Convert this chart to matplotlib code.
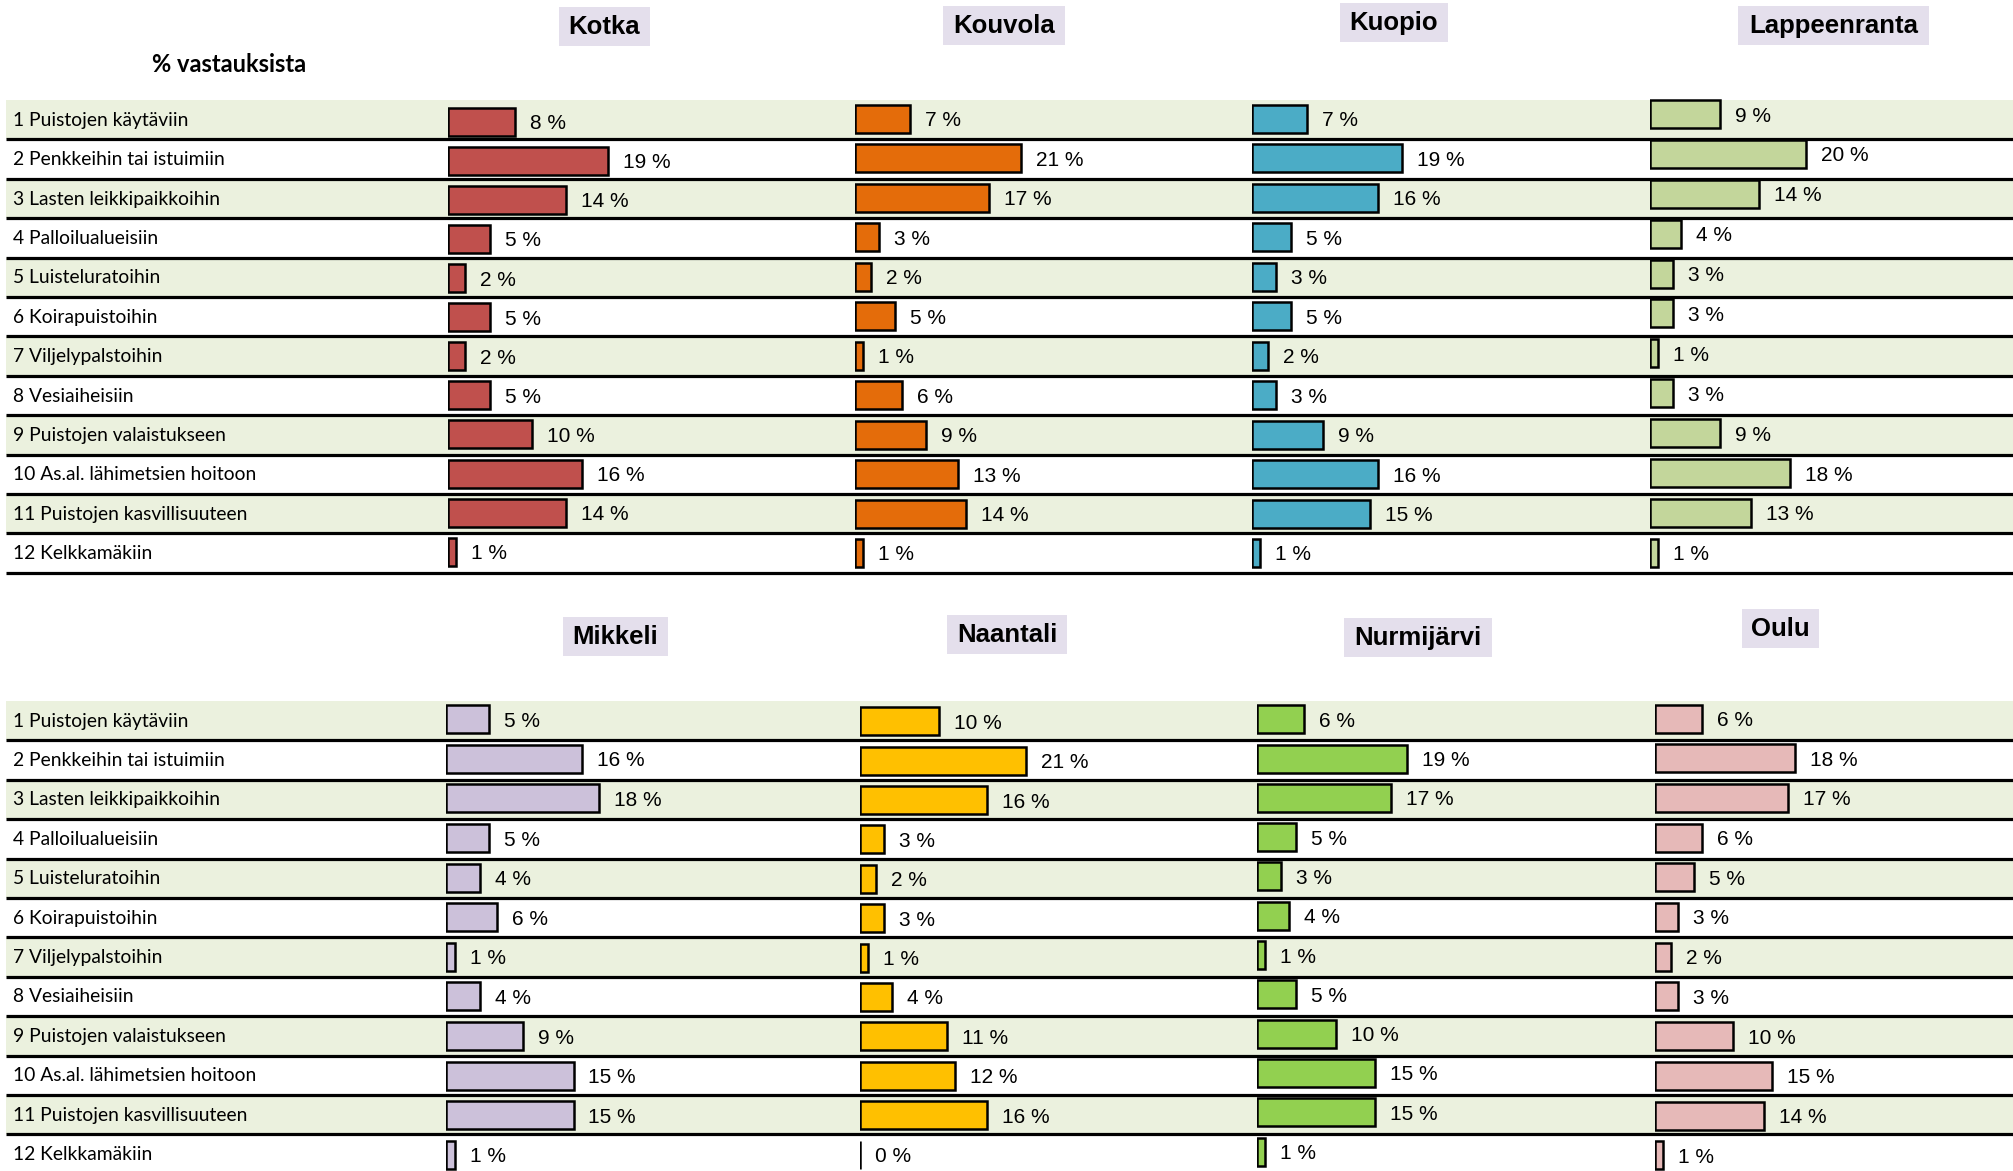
import matplotlib
matplotlib.use("Agg")
import matplotlib.pyplot as plt
from matplotlib.patches import Rectangle
from matplotlib import font_manager

# ---------------- data ----------------
categories = [
    "1 Puistojen käytäviin",
    "2 Penkkeihin tai istuimiin",
    "3 Lasten leikkipaikkoihin",
    "4 Palloilualueisiin",
    "5 Luisteluratoihin",
    "6 Koirapuistoihin",
    "7 Viljelypalstoihin",
    "8 Vesiaiheisiin",
    "9 Puistojen valaistukseen",
    "10 As.al. lähimetsien hoitoon",
    "11 Puistojen kasvillisuuteen",
    "12 Kelkkamäkiin",
]
cities = ["Kotka", "Kouvola", "Kuopio", "Lappeenranta",
          "Mikkeli", "Naantali", "Nurmijärvi", "Oulu"]
kotka = [8, 19, 14, 5, 2, 5, 2, 5, 10, 16, 14, 1]
kouvola = [7, 21, 17, 3, 2, 5, 1, 6, 9, 13, 14, 1]
kuopio = [7, 19, 16, 5, 3, 5, 2, 3, 9, 16, 15, 1]
lappeenranta = [9, 20, 14, 4, 3, 3, 1, 3, 9, 18, 13, 1]
mikkeli = [5, 16, 18, 5, 4, 6, 1, 4, 9, 15, 15, 1]
naantali = [10, 21, 16, 3, 2, 3, 1, 4, 11, 12, 16, 0]
nurmijarvi = [6, 19, 17, 5, 3, 4, 1, 5, 10, 15, 15, 1]
oulu = [6, 18, 17, 6, 5, 3, 2, 3, 10, 15, 14, 1]
series = [kotka, kouvola, kuopio, lappeenranta, mikkeli, naantali, nurmijarvi, oulu]
colors = ["#C0504D", "#E46C0A", "#4BACC6", "#C3D69B",
          "#CCC1DA", "#FFC000", "#92D050", "#E6B9B8"]
subtitle = "% vastauksista"

# ---------------- layout (pixels) ----------------
W, H = 2013, 1171
panel_top = [100, 701]
row_h = 39.4
# per city: panel, bar start x, px per percent, row-1 bar centre y, bar spacing
layout = [
    (0, 448, 8.4, 121.7, 39.09),
    (0, 855, 7.9, 119.0, 39.45),
    (0, 1252, 7.87, 119.0, 39.45),
    (0, 1650, 7.8, 114.0, 39.9),
    (1, 446, 8.5, 719.2, 39.6),
    (1, 860, 7.92, 721.2, 39.4),
    (1, 1257, 7.88, 719.2, 39.3),
    (1, 1655, 7.8, 718.5, 39.7),
]
# title box: centre x, centre y, width
title_boxes = [
    (604.5, 26, 91), (1004, 25, 122), (1394, 22, 108), (1833.5, 25.5, 191),
    (615.5, 636, 105), (1007, 634.5, 120), (1418, 637.5, 148), (1780, 628.5, 77),
]

names = {f.name for f in font_manager.fontManager.ttflist}
val_font = "Liberation Sans"
lab_font = "Lato" if "Lato" in names else "DejaVu Sans"

fig = plt.figure(figsize=(W / 100, H / 100), dpi=100)
fig.patch.set_facecolor("white")

bg = fig.add_axes([0, 0, 1, 1])
bg.set_xlim(0, W)
bg.set_ylim(H, 0)
bg.axis("off")

band_color = "#EBF1DE"
for top in panel_top:
    for i in range(12):
        y0 = top + i * row_h
        if i % 2 == 0:
            bg.add_patch(Rectangle((6, y0), W - 6, row_h, facecolor=band_color,
                                   edgecolor="none", zorder=0))
        bg.plot([6, W], [y0 + row_h, y0 + row_h], color="black", lw=2.3,
                solid_capstyle="butt", zorder=1)
        bg.text(13, y0 + row_h / 2 + 0.5, categories[i], fontsize=13.9,
                family=lab_font, va="center", ha="left", color="black", zorder=2)

bg.text(152, 64.5, subtitle, fontsize=17, family=lab_font, fontweight="bold",
        va="center", ha="left")

for name, (cx, cy, bw) in zip(cities, title_boxes):
    bg.add_patch(Rectangle((cx - bw / 2, cy - 19.5), bw, 39, facecolor="#E4DFEC",
                           edgecolor="none", zorder=1))
    bg.text(cx, cy + 1, name, fontsize=18.5, family="Liberation Sans",
            fontweight="bold", ha="center", va="center", zorder=2)

axw = 380
for vals, col, (panel, x0, ppp, c1, b) in zip(series, colors, layout):
    top_px = c1 - b / 2
    h_px = 12 * b
    ax = fig.add_axes([x0 / W, 1 - (top_px + h_px) / H, axw / W, h_px / H])
    ax.set_xlim(0, axw / ppp)
    ax.set_ylim(11.5, -0.5)
    ax.axis("off")
    ax.patch.set_alpha(0)
    ypos = list(range(len(vals)))
    ax.barh(ypos, vals, height=28 / b, left=0, color=col, edgecolor="black",
            linewidth=1.8, zorder=3)
    for y, v in zip(ypos, vals):
        ax.text(v + 15 / ppp, y + 2.0 / b, f"{v} %", fontsize=15, family=val_font,
                va="center", ha="left", color="black")

fig.savefig("out.png", dpi=100, facecolor="white")
